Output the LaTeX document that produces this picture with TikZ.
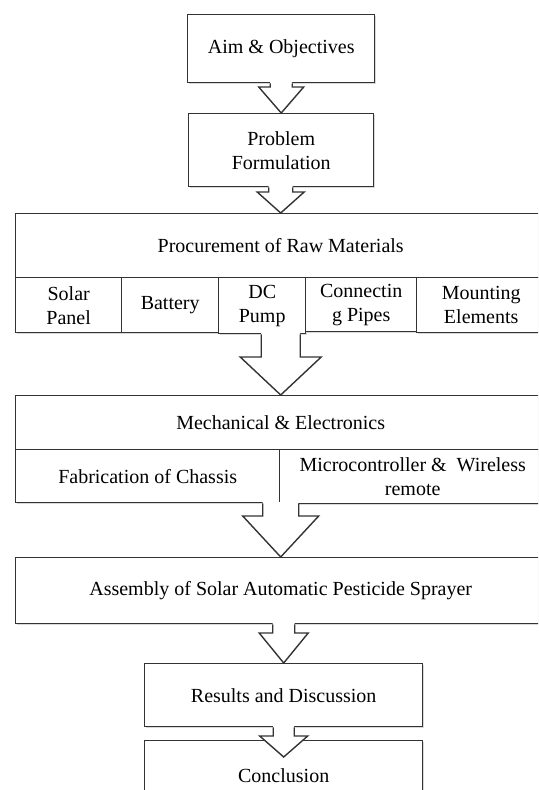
\documentclass[tikz,border=0pt]{standalone}
\usepackage{fontspec}
\setmainfont{Liberation Serif}
\usetikzlibrary{calc,shadows}

\tikzset{
  box/.style={draw=black!80, line width=0.7pt, fill=white, anchor=north west,
    inner sep=1pt, align=center, font=\fontsize{10}{12}\selectfont,
    drop shadow={shadow xshift=0.7pt, shadow yshift=-0.7pt, opacity=0.3}},
  fatarr/.style={draw=black!80, line width=0.7pt, line join=miter}
}

% block arrow: from, to, shaft half width, head half width, head length
\newcommand{\fatarrow}[5]{%
  \fill[white] let \p1=(#1), \p2=(#2) in
    (\x2-#3,\y1+0.6pt) -- (\x2-#3,\y2+#5) -- (\x2-#4,\y2+#5) -- (\x2,\y2)
    -- (\x2+#4,\y2+#5) -- (\x2+#3,\y2+#5) -- (\x2+#3,\y1+0.6pt) -- cycle;
  \draw[fatarr] let \p1=(#1), \p2=(#2) in
    (\x2-#3,\y1) -- (\x2-#3,\y2+#5) -- (\x2-#4,\y2+#5) -- (\x2,\y2)
    -- (\x2+#4,\y2+#5) -- (\x2+#3,\y2+#5) -- (\x2+#3,\y1);}

\begin{document}
\begin{tikzpicture}[x=0.5pt,y=-0.5pt]
  \useasboundingbox (0,0) rectangle (538,790);
  \clip (0,0) rectangle (538,790);

  \node[box, minimum width=93.5pt, minimum height=34pt] (aim) at (187,14) {Aim \& Objectives};
  \node[box, minimum width=92.5pt, minimum height=36.5pt] (prob) at (188,113) {Problem\\Formulation};

  % procurement
  \node[box, minimum width=265pt, minimum height=32pt] (proc) at (15,213) {Procurement of Raw Materials};
  \node[box, minimum width=53pt, minimum height=27.5pt] (solar) at (15,277) {Solar\\Panel};
  \node[box, minimum width=48.5pt, minimum height=27.5pt] (battery) at (121,277) {Battery};
  \node[box, minimum width=43.5pt, minimum height=28pt] (dcpump) at (218,277) {DC\\Pump};
  \node[box, minimum width=55.5pt, minimum height=27pt] (pipes) at (305,277) {Connectin\\g Pipes};
  \node[box, minimum width=64.5pt, minimum height=27.5pt] (mount) at (416,277) {Mounting\\Elements};

  % mechanical & electronics
  \node[box, minimum width=265pt, minimum height=27pt] (mech) at (15,395) {Mechanical \& Electronics};
  \node[box, minimum width=132pt, minimum height=26.5pt] (chassis) at (15,449) {Fabrication of Chassis};
  \node[box, minimum width=133pt, minimum height=27pt] (micro) at (279,449) {Microcontroller \&\ \ Wireless\\remote};

  \node[box, minimum width=265pt, minimum height=33pt] (asm) at (15,557) {Assembly of Solar Automatic Pesticide Sprayer};
  \node[box, minimum width=139pt, minimum height=31.5pt] (res) at (144,663) {Results and Discussion};
  \node[box, minimum width=139pt, minimum height=35pt] (concl) at (144,740) {Conclusion};
  \coordinate (tip6) at ([yshift=-8.5pt]concl.north);

  \fatarrow{aim.south}{prob.north}{5.5pt}{11.25pt}{13pt}
  \fatarrow{prob.south}{proc.north}{6pt}{11.75pt}{10.5pt}
  \fatarrow{dcpump.south -| mech.north}{mech.north}{9.75pt}{20.25pt}{19pt}
  \fatarrow{chassis.south -| asm.north}{asm.north}{9pt}{19pt}{20.5pt}
  \fatarrow{asm.south}{res.north}{5.5pt}{12.25pt}{15pt}
  \fatarrow{res.south}{tip6}{5.25pt}{12pt}{10.5pt}
\end{tikzpicture}
\end{document}
